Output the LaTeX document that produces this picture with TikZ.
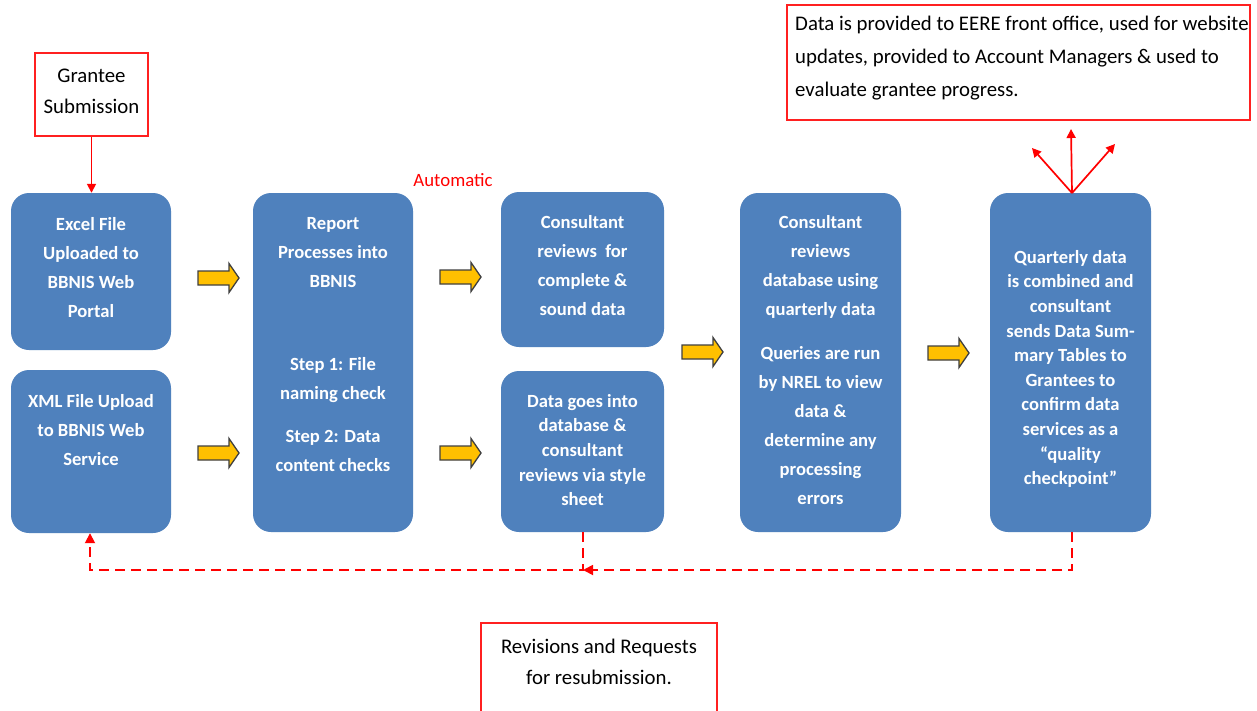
\documentclass[tikz,border=0pt]{standalone}
\usepackage{fontspec}
\setmainfont{Carlito}
\usetikzlibrary{arrows.meta}
\definecolor{boxblue}{HTML}{4F81BD}
\definecolor{ygold}{HTML}{FFC000}
\definecolor{lred}{HTML}{FF2020}
\tikzset{
  bluebox/.style={fill=boxblue, draw=none, rounded corners=18pt, inner sep=0pt},
  redbox/.style={draw=lred, line width=1.5pt, fill=white, inner sep=0pt},
  btext/.style={text=white, align=center, inner sep=0pt, font=\bfseries\fontsize{18.6}{29}\selectfont},
  btextt/.style={text=white, align=center, inner sep=0pt, font=\bfseries\fontsize{18.6}{24.6}\selectfont},
  ntext/.style={text=black, inner sep=0pt, font=\fontsize{20.8}{31}\selectfont},
  redarrow/.style={draw=red, line width=1.7pt, -{Triangle[length=9pt,width=9pt]}},
  dashred/.style={draw=red, line width=1.8pt, dash pattern=on 10pt off 6pt, -{Triangle[length=10pt,width=10pt]}},
  yarrow/.pic={\draw[fill=ygold, draw=black!75, line width=1.3pt, line join=miter]
     (0,-7) -- (31,-7) -- (31,-14.5) -- (41,0) -- (31,14.5) -- (31,7) -- (0,7) -- cycle;}
}
\begin{document}
\begin{tikzpicture}[x=1pt,y=-1pt]
\useasboundingbox (0,0) rectangle (1257,710);
\clip (0,0) rectangle (1257,710);
\fill[white] (0,0) rectangle (1257,710);

% red text boxes
\node[redbox, minimum width=113pt, minimum height=83pt] (grantee) at (91.5,94.5) {};
\node[ntext, align=center] (granteet) at (91.5,91.5) {Grantee\\Submission};

\node[redbox, minimum width=463pt, minimum height=115pt] (top) at (1018.5,62.5) {};
\node[ntext, align=left, anchor=west, font=\fontsize{20.8}{33}\selectfont] (topt) at (795,58)
  {Data is provided to EERE front office, used for website\\updates, provided to Account Managers \& used to\\evaluate grantee progress.};

\node[redbox, minimum width=236pt, minimum height=120pt] (bottom) at (599,683) {};
\node[ntext, align=center] (bottomt) at (599,661.5) {Revisions and Requests\\for resubmission.};

% blue boxes
\node[bluebox, minimum width=160pt, minimum height=157pt] (excel) at (91,271.5) {};
\node[bluebox, minimum width=160pt, minimum height=163pt] (xml) at (91,451.5) {};
\node[bluebox, minimum width=160pt, minimum height=339pt] (report) at (333,362.5) {};
\node[bluebox, minimum width=163pt, minimum height=155pt] (crf) at (582.5,269.5) {};
\node[bluebox, minimum width=163pt, minimum height=161pt] (dgi) at (582.5,451.5) {};
\node[bluebox, minimum width=161pt, minimum height=339pt] (crd) at (820.5,362.5) {};
\node[bluebox, minimum width=161pt, minimum height=339pt] (qd) at (1070.5,362.5) {};

% blue box texts
\node[btext] (excelt) at (91,267.5) {Excel File\\Uploaded to\\BBNIS Web\\Portal};
\node[btext] (xmlt) at (91,430.5) {XML File Upload\\to BBNIS Web\\Service};
\node[btext] (reportt1) at (333,253) {Report\\Processes into\\BBNIS};
\node[btext] (reportt2) at (333,380) {Step 1: File\\naming check};
\node[btext] (reportt3) at (333,450.5) {Step 2: Data\\content checks};
\node[btext] (crft) at (582.5,266) {Consultant\\reviews~ for\\complete \&\\sound data};
\node[btextt] (dgit) at (582.5,450) {Data goes into\\database \&\\consultant\\reviews via style\\sheet};
\node[btext] (crdt1) at (820.5,267) {Consultant\\reviews\\database using\\quarterly data};
\node[btext] (crdt2) at (820.5,426) {Queries are run\\by NREL to view\\data \&\\determine any\\processing\\errors};
\node[btextt] (qdt) at (1070.5,369) {Quarterly data\\is combined and\\consultant\\sends Data Sum-\\mary Tables to\\Grantees to\\confirm data\\services as a\\``quality\\checkpoint''};

% Automatic label
\node[text=red, inner sep=0pt, font=\fontsize{18.8}{22}\selectfont] (auto) at (453,180) {Automatic};

% yellow block arrows
\pic at (198,278) {yarrow};
\pic at (198,453) {yarrow};
\pic at (440,277) {yarrow};
\pic at (440,453) {yarrow};
\pic at (682,352) {yarrow};
\pic at (928,353) {yarrow};

% red connectors
\draw[redarrow] (grantee.south) -- (grantee.south |- excel.north);
\coordinate (fan) at (1072,193);
\coordinate (fanl) at (1032,148);
\coordinate (fanm) at (1071,129);
\coordinate (fanr) at (1115,144);
\draw[redarrow] (fan) -- (fanl);
\draw[redarrow] (fan) -- (fanm);
\draw[redarrow] (fan) -- (fanr);

% dashed feedback loop
\coordinate (junc) at (583,570);
\coordinate (ret) at (90,570);
\draw[dashred] (1072,532) |- (junc);
\draw[dashred] (dgi.south -| junc) -- (junc) -- (ret) -- (xml.south -| ret);
\end{tikzpicture}
\end{document}
